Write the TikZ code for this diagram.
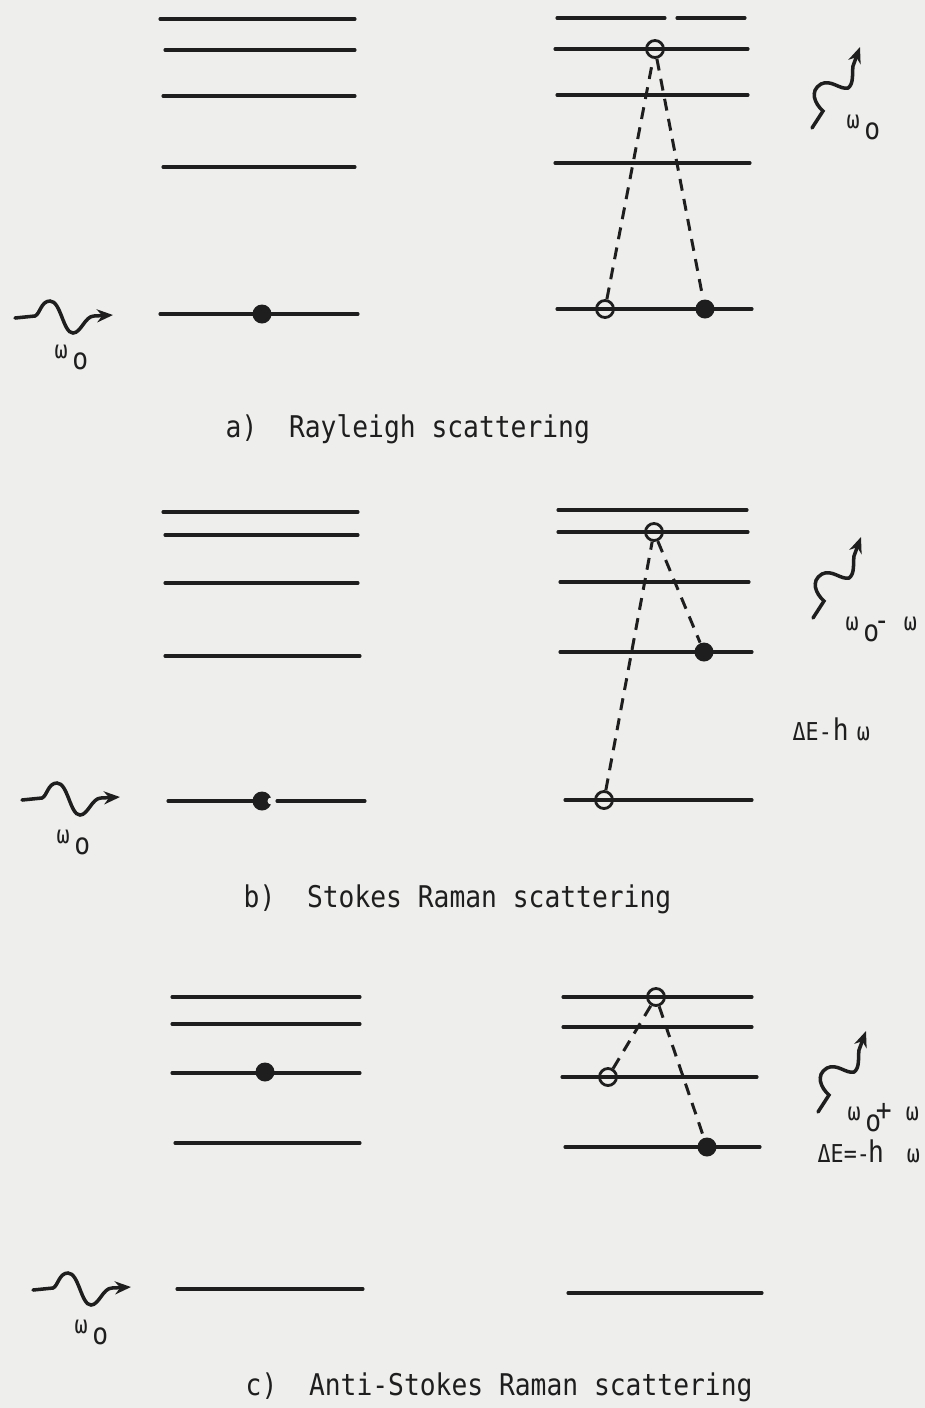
\documentclass[tikz,border=0pt]{standalone}
\usepackage{fontspec}
\usepackage{tikz}
\usetikzlibrary{positioning, arrows.meta, calc}
\newfontfamily\capfont[FakeStretch=0.88]{DejaVu Sans Mono}
\definecolor{bggray}{RGB}{238,238,236}
\definecolor{ink}{RGB}{30,30,30}
\newcommand{\lblsmall}{\capfont\fontsize{7}{8}\selectfont}
\newcommand{\wo}{{\lblsmall ω}\kern1.3pt\raisebox{-3.4pt}{o}}
\tikzset{
  level/.style={
    draw=ink,
    line width=0.9pt,
    line cap=round
  },
  electron/.style={
    circle,
    fill=ink,
    inner sep=0pt,
    minimum size=0.19cm
  },
  hole/.style={
    circle,
    draw=ink,
    line width=0.8pt,
    inner sep=0pt,
    minimum size=0.17cm
  },
  transition/.style={
    draw=ink,
    dash pattern=on 3.4pt off 2.4pt,
    line width=0.85pt
  },
  photon/.style={
    draw=ink,
    line width=1pt,
    line cap=round,
    -{Stealth[length=1.6mm, width=1.3mm]}
  },
  photonin/.pic={
    \draw[photon] (0,0) -- (20,-2) .. controls (25,-4) and (26,-17) .. (35,-17)
      .. controls (46,-17) and (48,15) .. (58,15)
      .. controls (66,15) and (70,-2) .. (79,-2) -- (98,-3);
  },
  photonout/.pic={
    \draw[photon] (0,0) -- (11,-17) .. controls (3,-24) and (-3,-37) .. (9,-44)
      .. controls (19,-49) and (28,-38) .. (36,-40)
      .. controls (42,-44) and (40,-55) .. (41,-62) -- (48,-81);
  },
  wlabel/.style={
    text=ink,
    font=\capfont\fontsize{8.5}{10}\selectfont,
    anchor=base west,
    inner sep=0pt
  },
  caption/.style={
    text=ink,
    font=\capfont\fontsize{8.5}{10}\selectfont,
    anchor=base west,
    inner sep=0pt
  }
}

\begin{document}
\begin{tikzpicture}[x=0.01cm, y=-0.01cm]
  \fill[bggray] (0,0) rectangle (925,1408);
  \useasboundingbox (0,0) rectangle (925,1408);

  % a) Rayleigh scattering
  \draw[level] (160,19) -- (355,19);
  \draw[level] (165,50) -- (355,50);
  \draw[level] (163,96) -- (355,96);
  \draw[level] (163,167) -- (355,167);
  \draw[level] (160,314) -- (358,314);
  \draw[level] (557,18) -- (665,18);
  \draw[level] (677,18) -- (745,18);
  \draw[level] (555,49) -- (748,49);
  \draw[level] (557,95) -- (748,95);
  \draw[level] (555,163) -- (750,163);
  \draw[level] (557,309) -- (752,309);

  \node[electron] (aground) at (262,314) {};
  \node[hole] (avirtual) at (655,49) {};
  \node[hole] (ahole) at (605,309) {};
  \node[electron] (afinal) at (705,309) {};
  \draw[transition] (ahole) -- (avirtual);
  \draw[transition] (avirtual) -- (afinal);

  \pic at (15,318) {photonin};
  \pic at (812,128) {photonout};
  \node[wlabel] (ainlabel) at (54,358) {\wo};
  \node[wlabel] (aoutlabel) at (846,128) {\wo};
  \node[caption] (acaption) at (225,437) {a)~~Rayleigh scattering};

  % b) Stokes Raman scattering
  \draw[level] (163,512) -- (358,512);
  \draw[level] (165,535) -- (358,535);
  \draw[level] (165,583) -- (358,583);
  \draw[level] (165,656) -- (360,656);
  \draw[level] (168,801) -- (270,801);
  \draw[level] (277,801) -- (365,801);
  \draw[level] (558,510) -- (747,510);
  \draw[level] (558,532) -- (748,532);
  \draw[level] (560,582) -- (749,582);
  \draw[level] (560,652) -- (752,652);
  \draw[level] (565,800) -- (752,800);

  \node[electron] (bground) at (262,801) {};
  \fill[bggray] ($(bground)+(9,0)$) circle (0.035cm);
  \node[hole] (bvirtual) at (654,532) {};
  \node[electron] (bfinal) at (704,652) {};
  \node[hole] (bhole) at (604,800) {};
  \draw[transition] (bhole) -- (bvirtual);
  \draw[transition] (bvirtual) -- (bfinal);

  \pic at (22,800) {photonin};
  \pic at (813,618) {photonout};
  \node[wlabel] (binlabel) at (56,843) {\wo};
  \node[wlabel] (boutlabel) at (845,630)
    {\wo\kern-1.5pt-\kern4pt{\lblsmall ω}};
  \node[wlabel] (benergy) at (792,740)
    {{\lblsmall ΔE-}\kern0.3pt h\kern2.3pt{\lblsmall ω}};
  \node[caption] (bcaption) at (243,907) {b)~~Stokes Raman scattering};

  % c) Anti-Stokes Raman scattering
  \draw[level] (172,997) -- (360,997);
  \draw[level] (172,1024) -- (360,1024);
  \draw[level] (172,1073) -- (360,1073);
  \draw[level] (175,1143) -- (360,1143);
  \draw[level] (177,1289) -- (363,1289);
  \draw[level] (563,997) -- (752,997);
  \draw[level] (563,1027) -- (752,1027);
  \draw[level] (562,1077) -- (757,1077);
  \draw[level] (565,1147) -- (760,1147);
  \draw[level] (568,1293) -- (762,1293);

  \node[electron] (cexcited) at (265,1072) {};
  \node[hole] (cvirtual) at (656,997) {};
  \node[hole] (chole) at (608,1077) {};
  \node[electron] (cfinal) at (707,1147) {};
  \draw[transition] (chole) -- (cvirtual);
  \draw[transition] (cvirtual) -- (cfinal);

  \pic at (33,1290) {photonin};
  \pic at (818,1112) {photonout};
  \node[wlabel] (cinlabel) at (74,1333) {\wo};
  \node[wlabel] (coutlabel) at (847,1120)
    {\wo\kern-1.5pt+\kern4pt{\lblsmall ω}};
  \node[wlabel] (cenergy) at (817,1162)
    {{\lblsmall ΔE=-}\kern-0.5pt h\kern6.5pt{\lblsmall ω}};
  \node[caption] (ccaption) at (245,1395) {c)~~Anti-Stokes Raman scattering};
\end{tikzpicture}
\end{document}
